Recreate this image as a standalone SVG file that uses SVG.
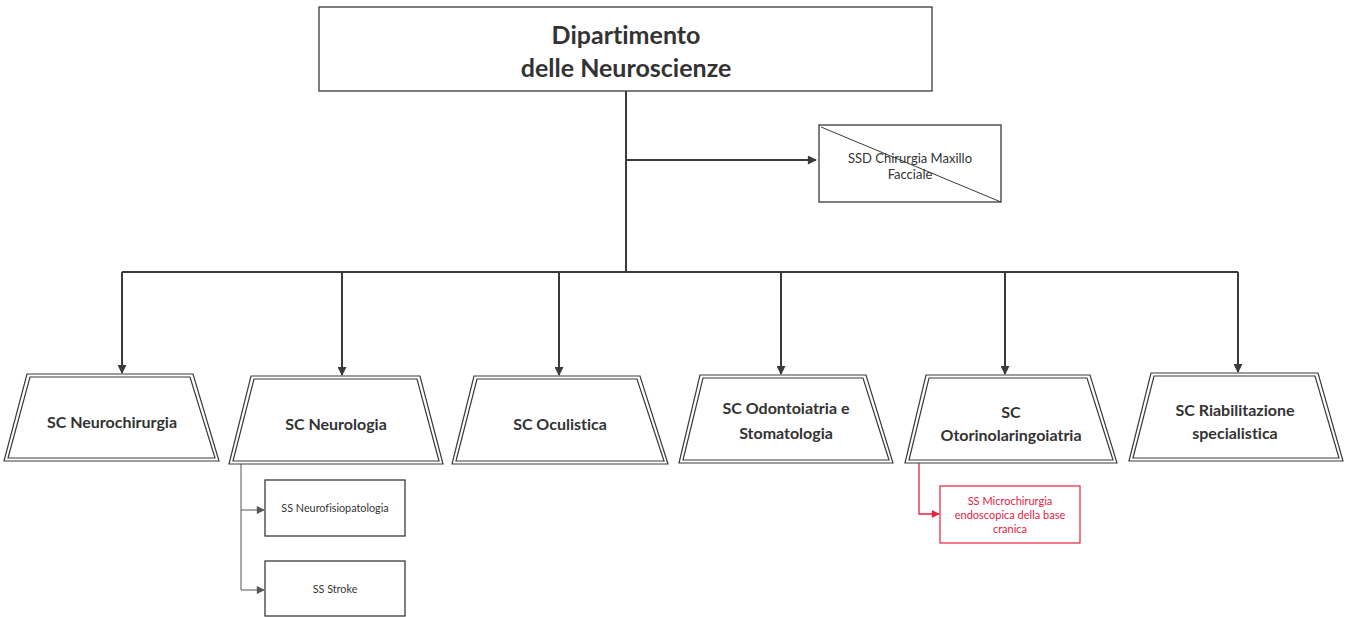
<svg xmlns="http://www.w3.org/2000/svg" width="1348" height="617" viewBox="0 0 1348 617">
<defs>
<style>
.box{fill:#fff;stroke:#3a3a3a;stroke-width:1.3}
.trap{fill:#fff;stroke:#3a3a3a;stroke-width:1.2}
.conn{fill:none;stroke:#3a3a3a;stroke-width:2}
.thin{fill:none;stroke:#555;stroke-width:1}
.t{font-family:Lato,"Liberation Sans",sans-serif;fill:#333;text-anchor:middle;font-variant-ligatures:none}
.big{font-size:25px;font-weight:bold}
.sc{font-size:16px;font-weight:bold}
.sm{font-size:13px}
.xs{font-size:10.8px}
.xr{font-size:11px}
.red{fill:#e8213f}
</style>
<marker id="ahb" viewBox="0 0 10 10" refX="9" refY="5" markerWidth="11" markerHeight="9" orient="auto" markerUnits="userSpaceOnUse"><path d="M0,0 L10,5 L0,10 z" fill="#3a3a3a"/></marker>
<marker id="ahs" viewBox="0 0 10 10" refX="9" refY="5" markerWidth="9" markerHeight="8" orient="auto" markerUnits="userSpaceOnUse"><path d="M0,0 L10,5 L0,10 z" fill="#555"/></marker>
<marker id="ahr" viewBox="0 0 10 10" refX="9" refY="5" markerWidth="9" markerHeight="8" orient="auto" markerUnits="userSpaceOnUse"><path d="M0,0 L10,5 L0,10 z" fill="#e8213f"/></marker>
</defs>
<rect width="1348" height="617" fill="#fff"/>

<g id="connectors">
<path class="conn" d="M626,91 V272"/>
<path class="conn" d="M626,160 H816" marker-end="url(#ahb)"/>
<path class="conn" d="M122,272 H1238"/>
<path class="conn" d="M122,272 V373" marker-end="url(#ahb)"/>
<path class="conn" d="M342,272 V375" marker-end="url(#ahb)"/>
<path class="conn" d="M559,272 V375" marker-end="url(#ahb)"/>
<path class="conn" d="M781,272 V374" marker-end="url(#ahb)"/>
<path class="conn" d="M1005,272 V374" marker-end="url(#ahb)"/>
<path class="conn" d="M1238,272 V372" marker-end="url(#ahb)"/>
<path class="thin" d="M241,463 V590"/>
<path class="thin" d="M241,510 H264" marker-end="url(#ahs)"/>
<path class="thin" d="M241,590 H264" marker-end="url(#ahs)"/>
<path fill="none" stroke="#e8213f" stroke-width="1.3" d="M919,463 V514 H939" marker-end="url(#ahr)"/>
</g>

<g id="dipartimento">
<rect class="box" x="319" y="7" width="613" height="84"/>
<text class="t big" x="626" y="44">Dipartimento</text>
<text class="t big" x="626" y="77">delle Neuroscienze</text>
</g>

<g id="ssd-maxillo">
<rect class="box" x="819" y="125" width="182" height="77"/>
<line x1="821" y1="127" x2="1001" y2="202" stroke="#3a3a3a" stroke-width="1"/>
<text class="t sm" x="910" y="163">SSD Chirurgia Maxillo</text>
<text class="t sm" x="910" y="179">Facciale</text>
</g>

<g id="sc-neurochirurgia">
<polygon class="trap" points="27,374 193,374 219,461 4,461"/>
<polygon class="trap" points="30,377 190,377 215,458 8,458"/>
<text class="t sc" x="112" y="428">SC Neurochirurgia</text>
</g>

<g id="sc-neurologia">
<polygon class="trap" points="251,376 420,376 443,464 229,464"/>
<polygon class="trap" points="254,379 417,379 439,461 233,461"/>
<text class="t sc" x="336" y="430">SC Neurologia</text>
</g>

<g id="sc-oculistica">
<polygon class="trap" points="474,376 640,376 668,464 452,464"/>
<polygon class="trap" points="477,379 637,379 664,461 456,461"/>
<text class="t sc" x="560" y="430">SC Oculistica</text>
</g>

<g id="sc-odontoiatria">
<polygon class="trap" points="700,375 866,375 893,463 679,463"/>
<polygon class="trap" points="703,378 863,378 889,460 683,460"/>
<text class="t sc" x="786" y="414">SC Odontoiatria e</text>
<text class="t sc" x="786" y="439">Stomatologia</text>
</g>

<g id="sc-otorino">
<polygon class="trap" points="926,375 1090,375 1117,463 905,463"/>
<polygon class="trap" points="929,378 1087,378 1113,460 909,460"/>
<text class="t sc" x="1011" y="418">SC</text>
<text class="t sc" x="1011" y="441">Otorinolaringoiatria</text>
</g>

<g id="sc-riabilitazione">
<polygon class="trap" points="1151,373 1318,373 1343,461 1129,461"/>
<polygon class="trap" points="1154,376 1315,376 1339,458 1133,458"/>
<text class="t sc" x="1235" y="416">SC Riabilitazione</text>
<text class="t sc" x="1235" y="439">specialistica</text>
</g>

<g id="ss-neurofisiopatologia">
<rect class="box" x="265" y="480" width="140" height="56" stroke-width="1"/>
<text class="t xs" x="335" y="512">SS Neurofisiopatologia</text>
</g>

<g id="ss-stroke">
<rect class="box" x="265" y="561" width="140" height="55" stroke-width="1"/>
<text class="t xs" x="335" y="593">SS Stroke</text>
</g>

<g id="ss-microchirurgia">
<rect x="940" y="486" width="140" height="57" fill="#fff" stroke="#e8213f" stroke-width="1.2"/>
<text class="t xr red" x="1010" y="505">SS Microchirurgia</text>
<text class="t xr red" x="1010" y="519">endoscopica della base</text>
<text class="t xr red" x="1010" y="533">cranica</text>
</g>
</svg>
